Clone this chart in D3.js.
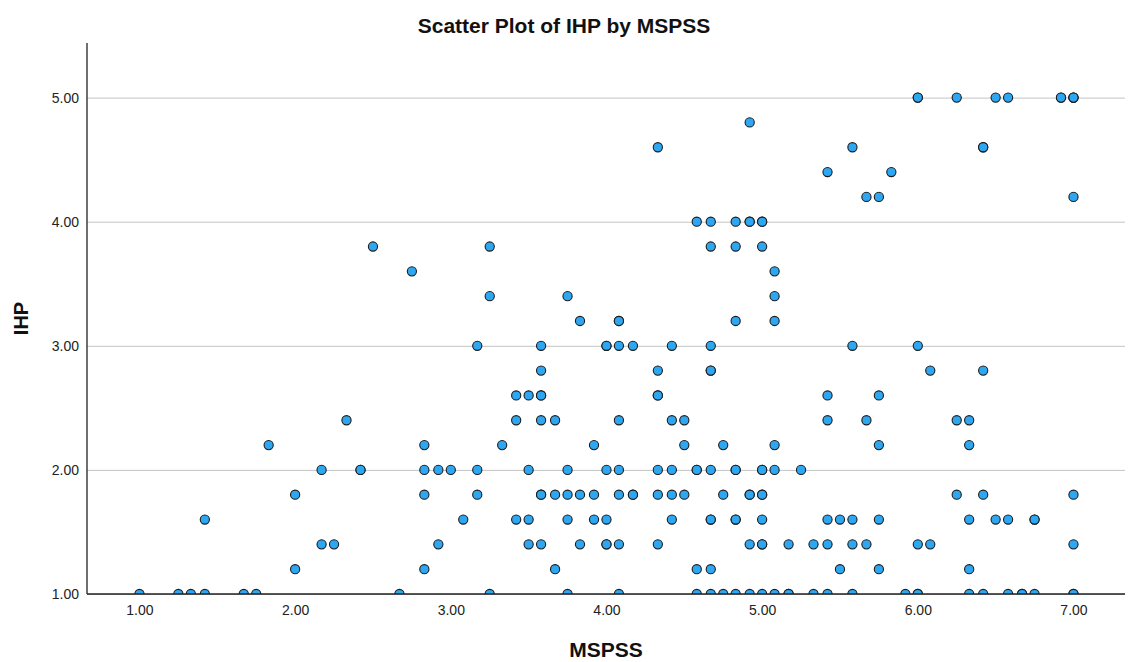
<!DOCTYPE html>
<html>
<head>
<meta charset="utf-8">
<script src="https://cdn.jsdelivr.net/npm/d3@7"></script>
<style>
  body { margin: 0; background: #fff; }
  svg { display: block; font-family: "Liberation Sans", Arial, sans-serif; }
</style>
</head>
<body>
<div id="chart"></div>
<script>
// IHP levels (rows) and the MSPSS scores seen on each row
var ihpLevels = [1.0, 1.2, 1.4, 1.6, 1.8, 2.0, 2.2, 2.4, 2.6, 2.8, 3.0, 3.2, 3.4, 3.6, 3.8, 4.0, 4.2, 4.4, 4.6, 4.8, 5.0];

var mspssByLevel = [
    [1.00, 1.25, 1.33, 1.42, 1.67, 1.75, 2.67, 3.25, 3.75, 4.08, 4.58, 4.67, 4.75, 4.83, 4.92, 5.00, 5.08, 5.17, 5.17, 5.33, 5.42, 5.58, 5.92, 6.00, 6.00, 6.33, 6.42, 6.58, 6.67, 6.67, 6.75, 7.00, 7.00],
    [2.00, 2.83, 3.67, 4.58, 4.67, 5.50, 5.75, 6.33],
    [2.17, 2.25, 2.92, 3.50, 3.58, 3.83, 4.00, 4.00, 4.08, 4.33, 4.92, 5.00, 5.00, 5.17, 5.33, 5.42, 5.58, 5.67, 6.00, 6.08, 7.00],
    [1.42, 3.08, 3.42, 3.50, 3.75, 3.92, 4.00, 4.42, 4.67, 4.67, 4.83, 4.83, 5.00, 5.42, 5.50, 5.58, 5.75, 6.33, 6.50, 6.58, 6.75, 6.75],
    [2.00, 2.83, 3.17, 3.58, 3.58, 3.67, 3.75, 3.83, 3.92, 4.08, 4.17, 4.17, 4.33, 4.42, 4.50, 4.75, 4.92, 4.92, 5.00, 5.00, 6.25, 6.42, 7.00],
    [2.17, 2.42, 2.42, 2.83, 2.92, 3.00, 3.17, 3.50, 3.75, 4.00, 4.08, 4.33, 4.42, 4.58, 4.58, 4.67, 4.83, 4.83, 5.00, 5.00, 5.08, 5.25],
    [1.83, 2.83, 3.33, 3.92, 4.50, 4.75, 5.08, 5.75, 6.33],
    [2.33, 3.42, 3.58, 3.67, 4.08, 4.42, 4.50, 5.42, 5.67, 6.25, 6.33],
    [3.42, 3.50, 3.58, 3.58, 4.33, 4.33, 5.42, 5.75],
    [3.58, 4.33, 4.67, 4.67, 6.08, 6.42],
    [3.17, 3.58, 4.00, 4.00, 4.08, 4.17, 4.42, 4.67, 5.58, 6.00],
    [3.83, 4.08, 4.08, 4.83, 5.08],
    [3.25, 3.75, 5.08],
    [2.75, 5.08],
    [2.50, 3.25, 4.67, 4.83, 5.00],
    [4.58, 4.67, 4.83, 4.92, 4.92, 5.00, 5.00],
    [5.67, 5.75, 7.00],
    [5.42, 5.83],
    [4.33, 5.58, 6.42, 6.42],
    [4.92],
    [6.00, 6.00, 6.25, 6.50, 6.58, 6.92, 6.92, 7.00, 7.00, 7.00]
];

var xTicks = [1, 2, 3, 4, 5, 6, 7];
var yTicks = [1, 2, 3, 4, 5];

var titleText = "Scatter Plot of IHP by MSPSS";
var xLabel = "MSPSS";
var yLabel = "IHP";

function init() {
    var W = 1128, H = 662;
    var margin = { top: 43, right: 3, bottom: 68, left: 87 };
    var w = W - margin.left - margin.right;
    var h = H - margin.top - margin.bottom;

    var points = [];
    ihpLevels.forEach(function (lv, i) {
        mspssByLevel[i].forEach(function (m) {
            points.push({ x: m, y: lv });
        });
    });

    var svg = d3.select("#chart").append("svg")
        .attr("width", W)
        .attr("height", H);

    var x = d3.scaleLinear().domain([0.663, 7.331]).range([0, w]);
    var y = d3.scaleLinear().domain([1, 5.44]).range([h, 0]);
    var fmt = d3.format(".2f");

    var g = svg.append("g").attr("transform", "translate(" + margin.left + "," + margin.top + ")");

    g.append("clipPath").attr("id", "plotclip")
        .append("rect").attr("x", 0).attr("y", -10).attr("width", w).attr("height", h + 10);

    // gridlines
    var grid = g.append("g")
        .call(d3.axisLeft(y).tickValues(yTicks).tickSize(-w).tickFormat(""));
    grid.select(".domain").remove();
    grid.selectAll("line").attr("stroke", "#c4c4c4").attr("stroke-width", 1);

    // y tick labels
    var yAxis = g.append("g")
        .call(d3.axisLeft(y).tickValues(yTicks).tickSize(0).tickPadding(8).tickFormat(fmt));
    yAxis.select(".domain").remove();
    yAxis.selectAll("text")
        .attr("font-size", "14px")
        .attr("fill", "#222")
        .attr("font-family", "Liberation Sans, Arial, sans-serif");

    // x tick labels
    var xAxis = g.append("g")
        .attr("transform", "translate(0," + h + ")")
        .call(d3.axisBottom(x).tickValues(xTicks).tickSize(0).tickPadding(11).tickFormat(fmt));
    xAxis.select(".domain").remove();
    xAxis.selectAll("text")
        .attr("font-size", "14px")
        .attr("fill", "#222")
        .attr("font-family", "Liberation Sans, Arial, sans-serif");

    // points
    g.append("g").attr("clip-path", "url(#plotclip)")
        .selectAll("circle")
        .data(points)
        .enter()
        .append("circle")
        .attr("cx", function (d) { return x(d.x); })
        .attr("cy", function (d) { return y(d.y); })
        .attr("r", 4.6)
        .attr("fill", "#2ea7f2")
        .attr("stroke", "#1c1c1c")
        .attr("stroke-width", 1.1);

    // axis lines
    g.append("line").attr("x1", 0).attr("x2", 0).attr("y1", 0).attr("y2", h)
        .attr("stroke", "#222").attr("stroke-width", 1.3);
    g.append("line").attr("x1", 0).attr("x2", w).attr("y1", h).attr("y2", h)
        .attr("stroke", "#222").attr("stroke-width", 1.3);

    // title and axis labels
    svg.append("text")
        .attr("x", W / 2).attr("y", 33)
        .attr("text-anchor", "middle")
        .attr("font-size", "21px").attr("font-weight", "bold")
        .attr("fill", "#111")
        .text(titleText);

    svg.append("text")
        .attr("x", margin.left + w / 2).attr("y", 657)
        .attr("text-anchor", "middle")
        .attr("font-size", "21px").attr("font-weight", "bold")
        .attr("fill", "#111")
        .text(xLabel);

    svg.append("text")
        .attr("transform", "translate(28," + (margin.top + h / 2) + ") rotate(-90)")
        .attr("text-anchor", "middle")
        .attr("font-size", "20px").attr("font-weight", "bold")
        .attr("fill", "#111")
        .text(yLabel);
}
window.onload = init;
</script>
</body>
</html>
